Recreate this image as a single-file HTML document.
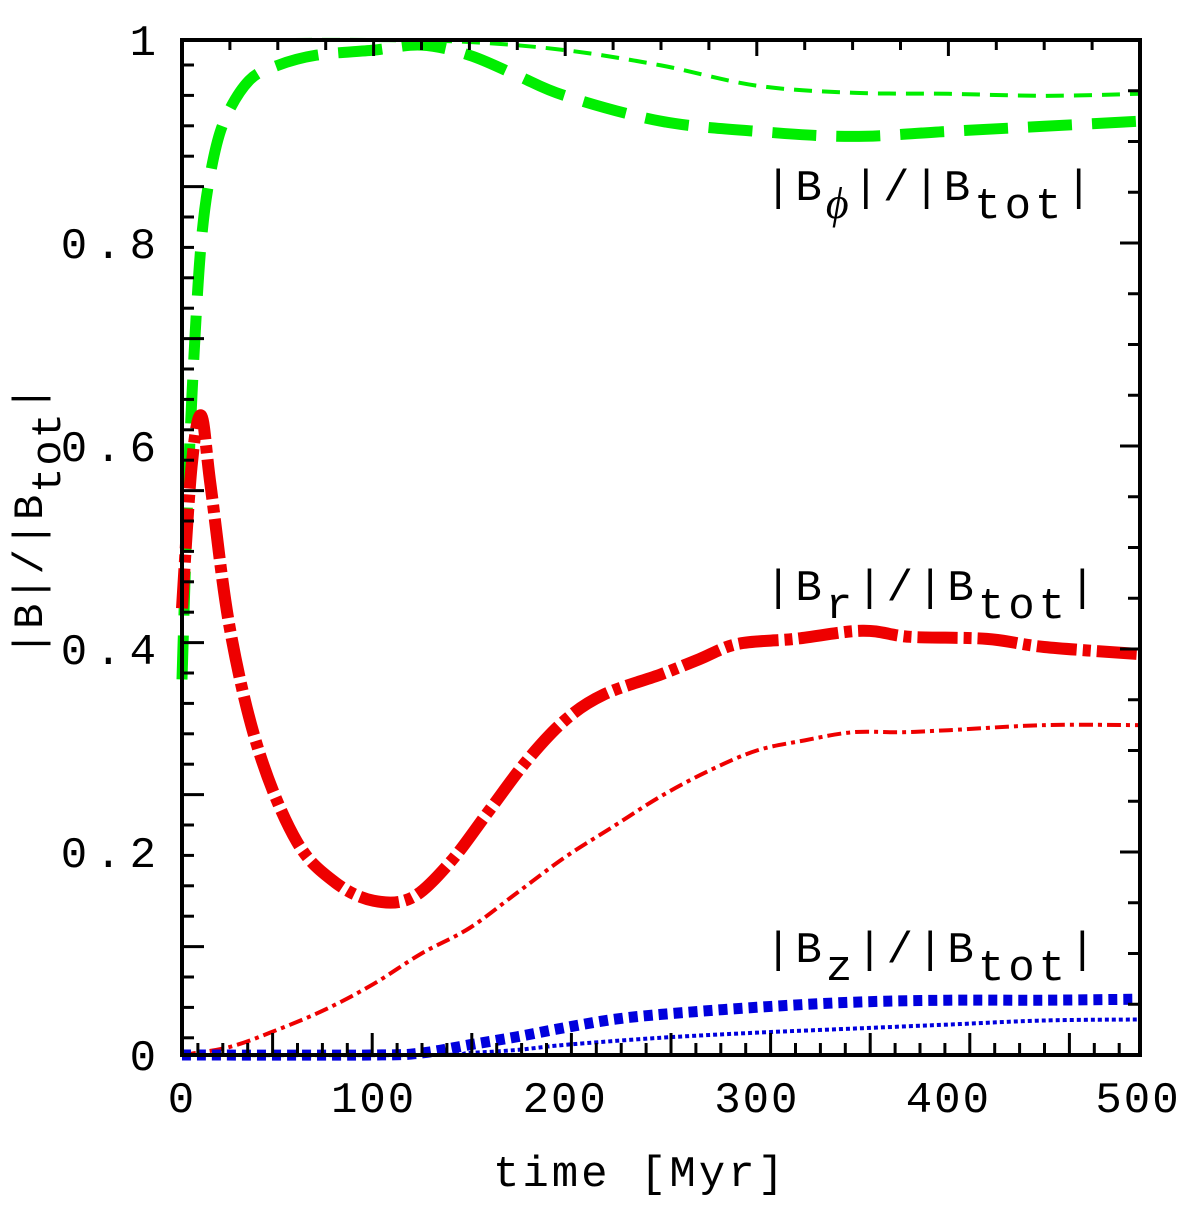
<!DOCTYPE html>
<html><head><meta charset="utf-8"><style>
html,body{margin:0;padding:0;background:#fff;}
svg text{font-family:"Liberation Mono",monospace;fill:#000;}
</style></head><body>
<svg id="chart" width="1200" height="1205" viewBox="0 0 1200 1205" xmlns="http://www.w3.org/2000/svg">
<g id="series"></g>
<g id="axes"></g>
<text x="765" y="200" font-size="44" letter-spacing="4">|B<tspan font-family="Liberation Serif" font-style="italic" dy="18" font-size="44">ϕ</tspan><tspan dy="-18">|/|B</tspan><tspan dy="18">tot</tspan><tspan dy="-18">|</tspan></text>
<text x="765" y="600" font-size="44" letter-spacing="4">|B<tspan dy="18">r</tspan><tspan dy="-18">|/|B</tspan><tspan dy="18">tot</tspan><tspan dy="-18">|</tspan></text>
<text x="765" y="962" font-size="44" letter-spacing="4">|B<tspan dy="18">z</tspan><tspan dy="-18">|/|B</tspan><tspan dy="18">tot</tspan><tspan dy="-18">|</tspan></text>
<text x="640" y="1186" font-size="44" text-anchor="middle" letter-spacing="3">time [Myr]</text>
<text transform="translate(42,520) rotate(-90)" font-size="42" text-anchor="middle" letter-spacing="2">|B|/|B<tspan dy="18">tot</tspan><tspan dy="-18">|</tspan></text>
</svg>
<script>
const xTicks=[0,100,200,300,400,500];
const yTicks=[0,0.2,0.4,0.6,0.8,1];
const yTickLabels=["0","0.2","0.4","0.6","0.8","1"];
const tGreenThick=[0,3,6,10,15,22,35,50,70,100,125,150,175,200,250,300,350,400,450,500];
const vGreenThick=[0.37,0.55,0.68,0.8,0.87,0.92,0.96,0.975,0.985,0.99,0.995,0.985,0.965,0.945,0.92,0.91,0.905,0.91,0.915,0.92];
const tGreenThin=[0,50,100,150,200,250,300,350,400,450,500];
const vGreenThin=[1,1,1,0.998,0.99,0.975,0.955,0.948,0.947,0.945,0.947];
const tRedThick=[0,5,10,15,25,40,60,80,100,120,140,160,180,200,220,250,270,290,320,355,380,420,450,500];
const vRedThick=[0.44,0.58,0.63,0.56,0.42,0.3,0.21,0.17,0.152,0.155,0.19,0.24,0.29,0.33,0.355,0.375,0.39,0.405,0.41,0.418,0.412,0.41,0.402,0.395];
const tRedThin=[0,25,50,75,100,125,150,175,200,225,250,275,300,325,350,375,400,450,500];
const vRedThin=[0,0.008,0.025,0.045,0.07,0.1,0.125,0.16,0.195,0.225,0.255,0.28,0.3,0.31,0.318,0.318,0.32,0.325,0.325];
const tBlueThick=[0,100,125,150,175,200,225,250,300,350,400,450,500];
const vBlueThick=[0,0,0.002,0.01,0.018,0.027,0.035,0.04,0.047,0.052,0.054,0.054,0.055];
const tBlueThin=[0,130,150,175,200,250,300,350,400,450,500];
const vBlueThin=[0,0,0.002,0.005,0.01,0.017,0.022,0.026,0.03,0.034,0.035];

const X0=182,X1=1140,Y0=1055,Y1=40;
const xs=t=>X0+(t/500)*(X1-X0);
const ys=v=>Y0-v*(Y0-Y1);
const NS="http://www.w3.org/2000/svg";
function mk(tag,attrs,parent){const e=document.createElementNS(NS,tag);for(const k in attrs)e.setAttribute(k,attrs[k]);parent.appendChild(e);return e;}
function pathD(ts,vs){
  const p=ts.map((t,i)=>[xs(t),ys(vs[i])]);
  let d="M"+p[0][0]+","+p[0][1];
  for(let i=0;i<p.length-1;i++){
    const a=p[Math.max(i-1,0)],b=p[i],c=p[i+1],e=p[Math.min(i+2,p.length-1)];
    const c1=[b[0]+(c[0]-a[0])/6,b[1]+(c[1]-a[1])/6],c2=[c[0]-(e[0]-b[0])/6,c[1]-(e[1]-b[1])/6];
    d+=" C"+c1+" "+c2+" "+c;
  }
  return d;
}
const S=document.getElementById('series');
function line(ts,vs,color,w,dash,name){
  const el=mk('path',{d:pathD(ts,vs),fill:'none',stroke:color,'stroke-width':w,'stroke-dasharray':dash},S);
  
  
}
line(tGreenThin,vGreenThin,'#00ee00',4,'18 10','series-bphi-thin');
line(tGreenThick,vGreenThick,'#00ee00',11,'44 20','series-bphi-thick');
line(tRedThin,vRedThin,'#ee0000',4,'14 5 4 5','series-br-thin');
line(tRedThick,vRedThick,'#ee0000',12,'40 6 8 6','series-br-thick');
line(tBlueThin,vBlueThin,'#0000dd',4,'4 3','series-bz-thin');
line(tBlueThick,vBlueThick,'#0000dd',11,'9 6','series-bz-thick');

const A=document.getElementById('axes');
const frame=mk('rect',{x:X0,y:Y1,width:X1-X0,height:Y0-Y1,fill:'none',stroke:'#000','stroke-width':4},A);


for(let k=0;k<=20;k++){const x=xs(k*25);mk('line',{x1:x,x2:x,y1:Y1,y2:Y1+(k%4==0?16:10),stroke:'#000','stroke-width':3},A);}
for(let k=0;k<40;k++){const x=173+k*24.9;if(x<X0+4||x>X1-4)continue;mk('line',{x1:x,x2:x,y1:Y0,y2:Y0-(k%4==0?22:12),stroke:'#000','stroke-width':3},A);}
for(let k=0;k<40;k++){const y=65+k*30.4;if(y>Y0-4)break;mk('line',{x1:X0,x2:X0+((k-4)%5==0?22:12),y1:y,y2:y,stroke:'#000','stroke-width':3},A);}
for(let k=1;k<20;k++){const y=ys(k*0.05);mk('line',{x1:X1,x2:X1-(k%4==0?20:12),y1:y,y2:y,stroke:'#000','stroke-width':3},A);}
xTicks.forEach(t=>{const el=mk('text',{x:xs(t)+(t==500?-2:0),y:1112,'font-size':44,'text-anchor':'middle','letter-spacing':2},A);el.textContent=String(t);
  
  });
yTicks.forEach((v,i)=>{const el=mk('text',{x:164,y:ys(v)+15,'font-size':44,'text-anchor':'end','letter-spacing':8},A);el.textContent=yTickLabels[i];
  
  });
</script>
</body></html>
